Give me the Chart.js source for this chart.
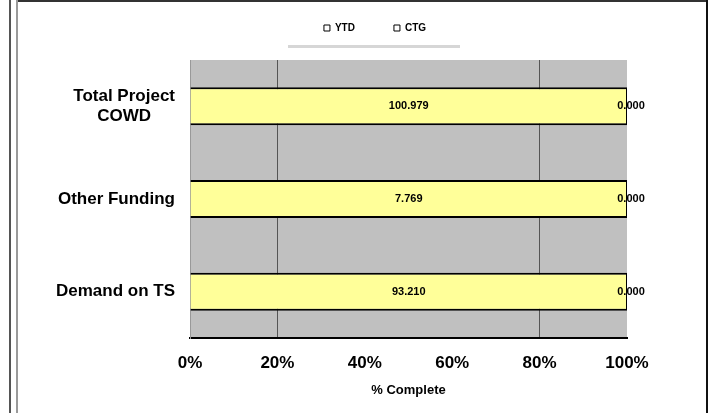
<!DOCTYPE html>
<html>
<head>
<meta charset="utf-8">
<script src="https://cdn.jsdelivr.net/npm/chart.js@4.4.1/dist/chart.umd.min.js"></script>
<style>
  html, body { margin: 0; padding: 0; background: #fff; }
  body { width: 720px; height: 413px; position: relative; overflow: hidden; }
  .rule { position: absolute; }
  #wrap { position: absolute; left: 0; top: -16px; width: 720px; height: 429px; }
</style>
</head>
<body>
<!-- frame around the chart, as in the scanned sheet -->
<div class="rule" style="left:9px;top:0;width:2px;height:413px;background:#555"></div>
<div class="rule" style="left:16px;top:0;width:2px;height:413px;background:#9a9a9a"></div>
<div class="rule" style="left:18px;top:0;width:690px;height:2px;background:#333"></div>
<div class="rule" style="left:706px;top:0;width:2px;height:413px;background:#111"></div>
<div class="rule" style="left:288px;top:45px;width:172px;height:3px;background:#d6d6d6"></div>
<div id="wrap"><canvas id="chart"></canvas></div>
<script>
const categories = [['Total Project', 'COWD'], ['Other Funding'], ['Demand on TS']];
const seriesNames = ['YTD', 'CTG'];
const ytdValues = [100.979, 7.769, 93.210];
const ctgValues = [0.000, 0.000, 0.000];
const xTickValues = [0, 20, 40, 60, 80, 100];
const xTitle = '% Complete';

const FONT = '"Liberation Sans", Arial, sans-serif';

// 100% stacked: share of each row
const share = (a, b) => a.map((v, i) => (v + b[i]) ? v / (v + b[i]) * 100 : 0);

const plotBg = {
  id: 'plotBg',
  beforeDraw(chart) {
    const { ctx, chartArea: a } = chart;
    ctx.save();
    ctx.fillStyle = '#c0c0c0';
    ctx.fillRect(a.left, a.top, a.right - a.left, a.bottom - a.top);
    ctx.restore();
  }
};

const legendHeight = {
  id: 'legendHeight',
  beforeInit(chart) {
    const fit = chart.legend.fit;
    chart.legend.fit = function () {
      fit.call(this);
      this.height = 76;
    };
  }
};

const yLabels = {
  id: 'yLabels',
  afterDraw(chart) {
    const { ctx } = chart;
    const y = chart.scales.y;
    ctx.save();
    ctx.font = 'bold 17px ' + FONT;
    ctx.fillStyle = '#000';
    ctx.textAlign = 'center';
    ctx.textBaseline = 'middle';
    categories.forEach((lines, i) => {
      const w = Math.max(...lines.map(t => ctx.measureText(t).width));
      const cx = y.right - 15 - w / 2;
      const cy = y.getPixelForTick(i);
      lines.forEach((t, j) => ctx.fillText(t, cx, cy + (j - (lines.length - 1) / 2) * 20));
    });
    ctx.restore();
  }
};

const barValues = {
  id: 'barValues',
  afterDatasetsDraw(chart) {
    const { ctx } = chart;
    const raw = [ytdValues, ctgValues];
    ctx.save();
    ctx.font = 'bold 11px ' + FONT;
    ctx.fillStyle = '#000';
    ctx.textAlign = 'center';
    ctx.textBaseline = 'middle';
    chart.data.datasets.forEach((ds, d) => {
      chart.getDatasetMeta(d).data.forEach((bar, i) => {
        ctx.fillText(raw[d][i].toFixed(3), (bar.x + bar.base) / 2 + (d === 1 ? 4 : 0), bar.y);
      });
    });
    ctx.restore();
  }
};

new Chart(document.getElementById('chart'), {
  type: 'bar',
  data: {
    labels: categories,
    datasets: [
      {
        label: seriesNames[0],
        data: share(ytdValues, ctgValues),
        backgroundColor: '#ffff99',
        borderColor: '#000',
        borderWidth: { top: 2, bottom: 2, left: 0, right: 1 },
        borderSkipped: false,
        barPercentage: 0.41,
        categoryPercentage: 1
      },
      {
        label: seriesNames[1],
        data: share(ctgValues, ytdValues),
        backgroundColor: '#9999ff',
        borderWidth: 0,
        barPercentage: 0.41,
        categoryPercentage: 1
      }
    ]
  },
  options: {
    indexAxis: 'y',
    responsive: true,
    maintainAspectRatio: false,
    animation: false,
    layout: { padding: { left: 123, right: 93, top: 0, bottom: 0 } },
    plugins: {
      tooltip: { enabled: false },
      legend: {
        position: 'top',
        labels: {
          boxWidth: 6,
          boxHeight: 6,
          padding: 39,
          color: '#000',
          font: { family: FONT, size: 10, weight: 'bold' },
          generateLabels: (chart) => chart.data.datasets.map((ds, i) => ({
            text: ds.label,
            fillStyle: '#fff',
            strokeStyle: '#000',
            lineWidth: 1,
            fontColor: '#000',
            hidden: false,
            datasetIndex: i
          }))
        }
      }
    },
    scales: {
      x: {
        stacked: true,
        min: 0,
        max: 100,
        afterBuildTicks: (s) => { s.ticks = xTickValues.map(v => ({ value: v })); },
        afterFit: (s) => { s.height = 75; },
        ticks: {
          color: '#000',
          padding: 15,
          font: { family: FONT, size: 17, weight: 'bold' },
          callback: (v) => v + '%'
        },
        grid: {
          drawTicks: false,
          lineWidth: 1,
          color: (c) => (c.tick && (c.tick.value === 20 || c.tick.value === 80)) ? '#555' : 'rgba(0,0,0,0)'
        },
        border: { color: '#000', width: 2 },
        title: {
          display: true,
          text: xTitle,
          color: '#000',
          font: { family: FONT, size: 13, weight: 'bold' },
          padding: { top: 0, bottom: 15 }
        }
      },
      y: {
        stacked: true,
        afterFit: (s) => { s.width = 67; },
        ticks: { display: false },
        grid: { display: false },
        border: { color: '#999', width: 1 }
      }
    }
  },
  plugins: [plotBg, legendHeight, yLabels, barValues]
});
</script>
</body>
</html>
